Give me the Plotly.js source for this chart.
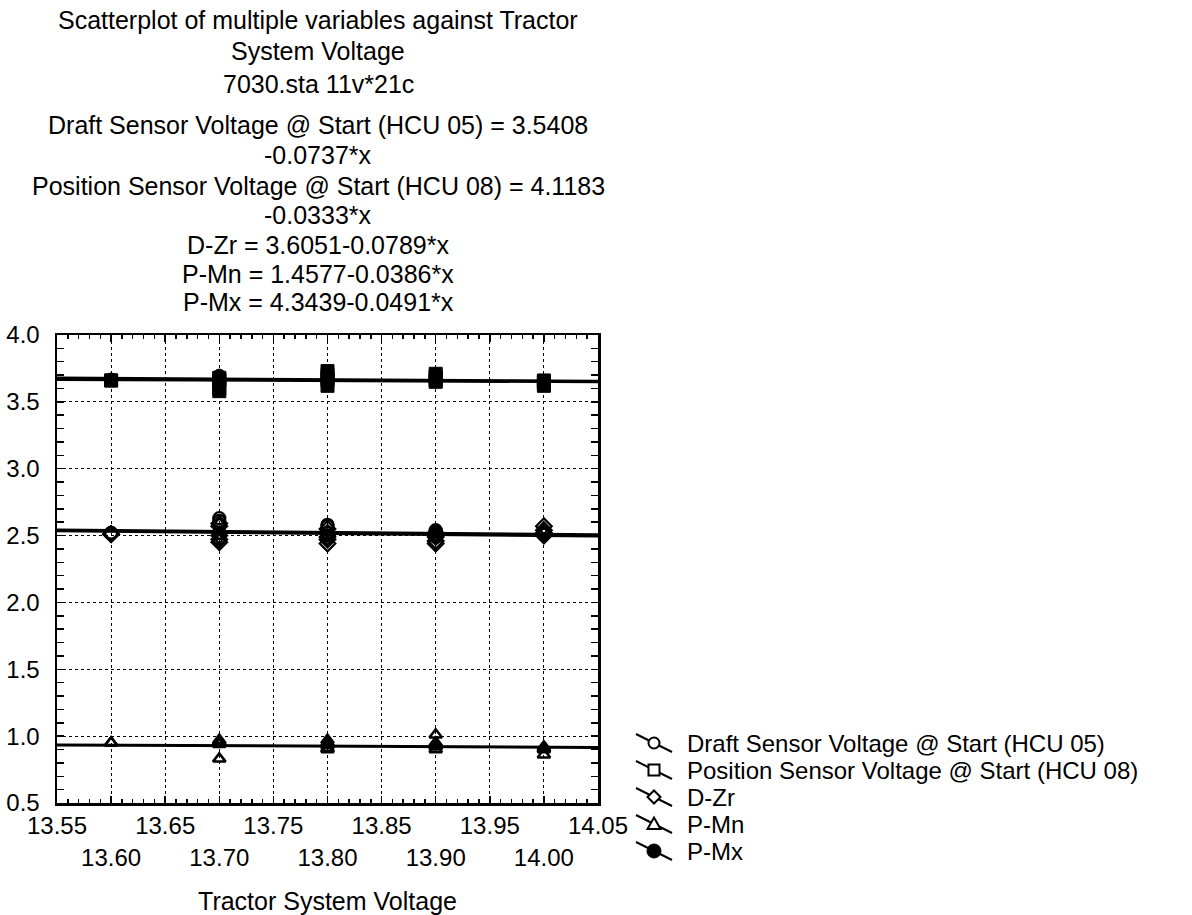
<!DOCTYPE html>
<html>
<head>
<meta charset="utf-8">
<script src="https://cdn.plot.ly/plotly-3.0.1.min.js"></script>
<style>html,body{margin:0;padding:0;background:#fff;}#chart{width:1192px;height:915px;}</style>
</head>
<body>
<div id="chart"></div>
<script>
// ---- data ----
const seriesNames = ['Draft Sensor Voltage @ Start (HCU 05)', 'Position Sensor Voltage @ Start (HCU 08)', 'D-Zr', 'P-Mn', 'P-Mx'];
const intercepts = [3.5408, 4.1183, 3.6051, 1.4577, 4.3439];
const slopes = [-0.0737, -0.0333, -0.0789, -0.0386, -0.0491];

const tractorVoltage = [13.6, 13.6, 13.7, 13.7, 13.7, 13.7, 13.7, 13.8, 13.8, 13.8, 13.8, 13.8, 13.9, 13.9, 13.9, 13.9, 13.9, 14.0, 14.0, 14.0, 14.0];
const draftSensor   = [2.52, 2.52, 2.63, 2.61, 2.52, 2.48, 2.52, 2.58, 2.57, 2.52, 2.50, 2.52, 2.54, 2.53, 2.51, 2.49, 2.53, 2.52, 2.51, 2.51, 2.52];
const positionSensor= [3.66, 3.66, 3.58, 3.60, 3.66, 3.68, 3.67, 3.62, 3.66, 3.70, 3.73, 3.68, 3.65, 3.68, 3.71, 3.66, 3.69, 3.62, 3.65, 3.64, 3.66];
const dZr           = [2.51, 2.51, 2.59, 2.57, 2.47, 2.45, 2.50, 2.55, 2.52, 2.47, 2.44, 2.49, 2.52, 2.49, 2.46, 2.44, 2.50, 2.57, 2.54, 2.50, 2.52];
const pMn           = [0.95, 0.95, 0.97, 0.83, 0.95, 0.96, 0.94, 0.97, 0.93, 0.90, 0.91, 0.95, 1.01, 0.93, 0.90, 0.92, 0.95, 0.92, 0.86, 0.90, 0.91];
const pMx           = [3.67, 3.67, 3.69, 3.70, 3.68, 3.69, 3.68, 3.67, 3.70, 3.72, 3.66, 3.69, 3.66, 3.70, 3.68, 3.67, 3.69, 3.64, 3.66, 3.65, 3.63];

const xRange = [13.55, 14.05];
const xTickTop = ['13.55', '13.65', '13.75', '13.85', '13.95', '14.05'];
const xTickBottom = ['13.60', '13.70', '13.80', '13.90', '14.00'];
const yTicks = ['0.5', '1.0', '1.5', '2.0', '2.5', '3.0', '3.5', '4.0'];

const titleLines = [
  'Scatterplot of multiple variables against Tractor',
  'System Voltage',
  '7030.sta 11v*21c',
  'Draft Sensor Voltage @ Start (HCU 05) = 3.5408',
  '-0.0737*x',
  'Position Sensor Voltage @ Start (HCU 08) = 4.1183',
  '-0.0333*x',
  'D-Zr = 3.6051-0.0789*x',
  'P-Mn = 1.4577-0.0386*x',
  'P-Mx = 4.3439-0.0491*x'
];

// ---- layout helpers ----
const FONT = 'Liberation Sans, Arial, sans-serif';
const L = 57, R = 598, T = 335, B = 803;
const px2x = p => (p - L) / (R - L);
const py2y = p => (B - p) / (B - T);

const seriesY = [draftSensor, positionSensor, dZr, pMn, pMx];
const markerStyles = [
  {symbol: 'circle-open', size: 12, color: 'black', line: {width: 2.2, color: 'black'}},
  {symbol: 'square', size: 13, color: 'black', line: {width: 1, color: 'black'}},
  {symbol: 'diamond-open', size: 12, color: 'black', line: {width: 2.2, color: 'black'}},
  {symbol: 'triangle-up-open', size: 11, color: 'black', line: {width: 2.5, color: 'black'}},
  {symbol: 'circle', size: 12, color: 'black', line: {width: 1, color: 'black'}}
];

const traces = [];
// regression lines (from the fitted equations printed in the title)
seriesNames.forEach((n, i) => {
  traces.push({
    type: 'scatter', mode: 'lines', name: n + ' fit',
    x: xRange, y: xRange.map(v => intercepts[i] + slopes[i] * v),
    line: {color: 'black', width: 3}, showlegend: false, hoverinfo: 'skip'
  });
});
seriesNames.forEach((n, i) => {
  traces.push({
    type: 'scatter', mode: 'markers', name: n,
    x: tractorVoltage, y: seriesY[i],
    marker: markerStyles[i], showlegend: false
  });
});

const annotations = [];
const titleY = [20, 51, 84, 125, 155, 186, 215, 245, 274, 302];
titleLines.forEach((t, i) => {
  annotations.push({
    text: t, xref: 'paper', yref: 'paper', x: px2x(318), y: py2y(titleY[i]),
    xanchor: 'center', yanchor: 'middle', showarrow: false,
    font: {family: FONT, size: 25, color: 'black'}
  });
});

// custom legend (diagonal line with marker, as in the reference)
const shapes = [];
const legY = [743, 770, 797, 824, 851];
const gx = 654;
seriesNames.forEach((n, i) => {
  const gy = legY[i];
  shapes.push({type: 'line', xref: 'paper', yref: 'paper',
    x0: px2x(gx - 18), y0: py2y(gy - 9), x1: px2x(gx + 18), y1: py2y(gy + 9),
    line: {color: 'black', width: 2}});
  const s = 5.5;
  const sty = {xref: 'paper', yref: 'paper', line: {color: 'black', width: 2}, fillcolor: 'white'};
  if (i === 0) shapes.push(Object.assign({type: 'circle', x0: px2x(gx - s), x1: px2x(gx + s), y0: py2y(gy - s), y1: py2y(gy + s)}, sty));
  if (i === 1) shapes.push(Object.assign({type: 'rect', x0: px2x(gx - s), x1: px2x(gx + s), y0: py2y(gy - s), y1: py2y(gy + s)}, sty));
  if (i === 2) shapes.push(Object.assign({type: 'path', path: `M ${px2x(gx)} ${py2y(gy - 6.5)} L ${px2x(gx + 6.5)} ${py2y(gy)} L ${px2x(gx)} ${py2y(gy + 6.5)} L ${px2x(gx - 6.5)} ${py2y(gy)} Z`}, sty));
  if (i === 3) shapes.push(Object.assign({type: 'path', path: `M ${px2x(gx)} ${py2y(gy - 6.5)} L ${px2x(gx + 6.5)} ${py2y(gy + 5)} L ${px2x(gx - 6.5)} ${py2y(gy + 5)} Z`}, sty));
  if (i === 4) shapes.push({type: 'circle', xref: 'paper', yref: 'paper', x0: px2x(gx - 7), x1: px2x(gx + 7), y0: py2y(gy - 7), y1: py2y(gy + 7), line: {color: 'black', width: 1}, fillcolor: 'black'});
  annotations.push({
    text: n, xref: 'paper', yref: 'paper', x: px2x(685), y: py2y(gy),
    xanchor: 'left', yanchor: 'middle', showarrow: false,
    font: {family: FONT, size: 24, color: 'black'}
  });
});

const axisCommon = {
  showline: true, linecolor: 'black', linewidth: 2.5, mirror: 'allticks',
  ticks: 'inside', ticklen: 7, tickwidth: 1.5, tickcolor: 'black',
  showgrid: true, gridcolor: 'black', gridwidth: 1, griddash: 'dot',
  zeroline: false, tickfont: {family: FONT, size: 24, color: 'black'}
};

const layout = {
  width: 1192, height: 915,
  margin: {l: L, r: 1192 - R, t: T, b: 915 - B, pad: 0},
  paper_bgcolor: 'white', plot_bgcolor: 'white',
  showlegend: false,
  font: {family: FONT, color: 'black'},
  xaxis: Object.assign({}, axisCommon, {
    range: xRange, tickmode: 'array',
    tickvals: xTickTop.map(Number), ticktext: xTickTop,
    ticklabelstandoff: 0,
    minor: {dtick: 0.01, tick0: 13.55, ticks: 'inside', ticklen: 4, tickwidth: 1.5, tickcolor: 'black', showgrid: false},
    title: {text: 'Tractor System Voltage', font: {family: FONT, size: 25, color: 'black'}, standoff: 56},
    automargin: false
  }),
  xaxis2: Object.assign({}, axisCommon, {
    overlaying: 'x', anchor: 'y', side: 'bottom', matches: 'x',
    range: xRange, tickmode: 'array',
    tickvals: xTickBottom.map(Number), ticktext: xTickBottom,
    ticklabelstandoff: 32, automargin: false
  }),
  yaxis: Object.assign({}, axisCommon, {
    range: [0.5, 4.0], tickmode: 'array',
    tickvals: yTicks.map(Number), ticktext: yTicks,
    ticklabelstandoff: 10,
    minor: {dtick: 0.1, tick0: 0.5, ticks: 'inside', ticklen: 4, tickwidth: 1.5, tickcolor: 'black', showgrid: false},
    automargin: false
  }),
  annotations: annotations,
  shapes: shapes
};

// invisible helper so the second (label-row) x axis is drawn
traces.push({type: 'scatter', mode: 'markers', x: [13.8], y: [2], xaxis: 'x2', marker: {opacity: 0}, showlegend: false, hoverinfo: 'skip'});

Plotly.newPlot('chart', traces, layout, {staticPlot: true});
</script>
</body>
</html>
